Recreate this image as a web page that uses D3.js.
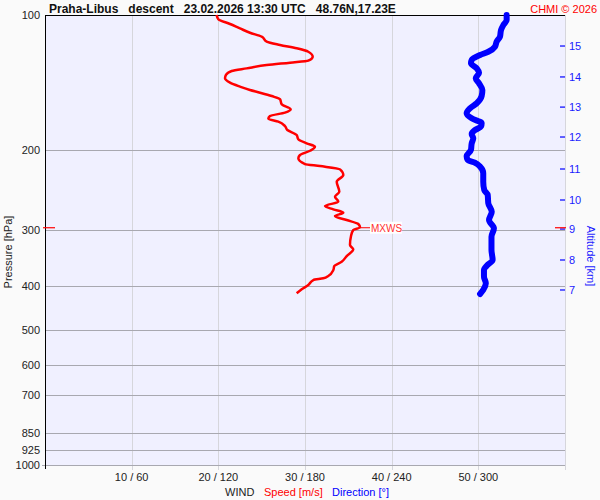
<!DOCTYPE html>
<html>
<head>
<meta charset="utf-8">
<script src="https://cdn.jsdelivr.net/npm/d3@7"></script>
<style>
  body { margin: 0; background: #fafafa; }
  svg { display: block; font-family: "Liberation Sans", Arial, sans-serif; }
</style>
</head>
<body>
<svg id="chart" width="600" height="500"></svg>
<script>
// pressure levels with grid lines / labels
var pressureTicks = [100, 200, 300, 400, 500, 600, 700, 850, 925, 1000];
// wind speed ticks (m/s), direction label is speed*6
var speedTicks = [10, 20, 30, 40, 50];
// altitude km and the pressure it sits at in this sounding
var altKm = [15, 14, 13, 12, 11, 10, 9, 8, 7];
var altPres = [117.2, 137.3, 160.2, 186.7, 219.9, 257.7, 299, 350.3, 408.4];

// wind speed profile
var speedPres = [100, 102.2, 104.7, 107.1, 109.5, 111.7, 114.6, 116.6, 118.6, 120.7,
  123.8, 126.3, 127.6, 129.2, 131.4, 133.2, 135.9, 138.3, 141.4, 144.3,
  146.8, 148.8, 151.4, 153.9, 157.9, 162.0, 164.8, 167.7, 170.0, 172.6,
  176.5, 180.1, 184.8, 188.9, 192.8, 196.2, 200.3, 204.7, 208.2, 214.4,
  216.6, 220.3, 226.8, 234.7, 247.0, 253.4, 260.0, 265.8, 270.3, 275.0,
  279.7, 285.5, 291.4, 296.4, 300.5, 309.9, 324.5, 331.7, 343.3, 353.5,
  361.3, 368.8, 380.2, 384.7, 388.1, 398.1, 407.0, 415.4];
var speedVal = [19.8, 20.0, 21.35, 22.5, 23.65, 25.0, 25.58, 27.12, 29.04, 30.38,
  30.89, 30.38, 28.27, 25.58, 23.27, 21.54, 20.88, 20.77, 21.35, 22.5,
  23.65, 24.81, 26.16, 27.12, 27.31, 28.35, 27.69, 25.96, 25.77, 26.92,
  27.69, 27.96, 29.04, 29.23, 30.19, 31.15, 30.58, 29.42, 29.23, 30.0,
  31.73, 34.04, 34.42, 33.66, 33.96, 33.46, 33.84, 32.31, 33.27, 34.42,
  33.46, 34.81, 36.15, 36.35, 35.57, 35.31, 35.19, 35.57, 34.81, 34.23,
  33.38, 33.27, 32.69, 32.11, 30.96, 30.38, 29.62, 29.04];

// wind direction profile
var dirPres = [100, 102.6, 105.3, 108.0, 111.7, 114.6, 117.6, 120.7, 122.7, 125.9,
  128.0, 131.4, 134.4, 138.3, 141.9, 146.8, 151.4, 157.1, 161.2, 165.3,
  169.7, 174.0, 177.1, 180.1, 183.8, 187.9, 192.8, 199.5, 205.8, 210.0,
  212.9, 217.3, 224.8, 234.7, 244.9, 251.2, 262.1, 273.6, 285.5, 297.9,
  311.0, 333.0, 350.4, 359.4, 368.8, 381.6, 394.7, 408.4, 416.9];
var dirVal = [319.6, 319.6, 317.3, 315.7, 315.0, 312.7, 311.5, 306.9, 301.2, 295.4,
  294.9, 298.9, 300.5, 298.2, 300.5, 302.8, 302.3, 298.9, 294.2, 291.9,
  295.4, 302.3, 301.8, 297.7, 295.4, 296.5, 295.4, 294.9, 291.9, 292.6,
  297.7, 301.2, 303.4, 303.4, 304.1, 306.5, 306.9, 309.3, 307.4, 310.8,
  309.1, 309.1, 309.9, 306.3, 303.9, 303.9, 305.2, 303.4, 301.2];

// max wind level
var mxwsPres = 297;
var mxwsSpeed = 36.35;

var svg = d3.select("#chart");
var pLeft = 45, pRight = 565, pTop = 15, pBottom = 465;

var y = d3.scaleLog().domain([100, 1000]).range([pTop, pBottom]);
var xs = d3.scaleLinear().domain([0, 60]).range([pLeft, pRight]);
var xd = d3.scaleLinear().domain([0, 360]).range([pLeft, pRight]);

svg.append("rect").attr("width", 600).attr("height", 500).attr("fill", "#fafafa");
svg.append("rect")
  .attr("x", pLeft).attr("y", pTop)
  .attr("width", pRight - pLeft).attr("height", pBottom - pTop)
  .attr("fill", "#f0f0ff");

// vertical grid (speed / direction)
svg.selectAll(".vgrid")
  .data(speedTicks)
  .enter().append("line")
  .attr("x1", d => Math.round(xs(d)) + 0.5).attr("x2", d => Math.round(xs(d)) + 0.5)
  .attr("y1", pTop).attr("y2", pBottom + 5)
  .attr("stroke", "#d6d6dc").attr("stroke-width", 1);

svg.append("line")
  .attr("x1", pRight + 0.5).attr("x2", pRight + 0.5)
  .attr("y1", pTop).attr("y2", pBottom + 5)
  .attr("stroke", "#d6d6dc");

// horizontal grid (pressure)
svg.selectAll(".hgrid")
  .data(pressureTicks.slice(1))
  .enter().append("line")
  .attr("x1", d => d == 1000 ? pLeft - 3 : pLeft).attr("x2", pRight)
  .attr("y1", d => Math.round(y(d)) + 0.5).attr("y2", d => Math.round(y(d)) + 0.5)
  .attr("stroke", "#a8a8b0").attr("stroke-width", 1);

// pressure labels
svg.selectAll(".plab")
  .data(pressureTicks)
  .enter().append("text")
  .attr("x", 40).attr("y", d => y(d) + 4)
  .attr("text-anchor", "end")
  .attr("font-size", 11).attr("fill", "#222")
  .text(d => d);

// left axis + top border
svg.append("line")
  .attr("x1", pLeft + 0.5).attr("x2", pLeft + 0.5)
  .attr("y1", pTop).attr("y2", pBottom + 4)
  .attr("stroke", "#000");
svg.append("line")
  .attr("x1", pLeft).attr("x2", pRight)
  .attr("y1", pTop + 0.5).attr("y2", pTop + 0.5)
  .attr("stroke", "#000");

// speed / direction tick labels
svg.selectAll(".xlab")
  .data(speedTicks)
  .enter().append("text")
  .attr("x", d => xs(d)).attr("y", 481)
  .attr("text-anchor", "middle")
  .attr("font-size", 11).attr("fill", "#222")
  .text(d => d + " / " + d * 6);

var leg = svg.append("text").attr("y", 496).attr("font-size", 11);
leg.append("tspan").attr("x", 225).attr("fill", "#222").text("WIND");
leg.append("tspan").attr("x", 264).attr("fill", "#ff0000").text("Speed [m/s]");
leg.append("tspan").attr("x", 332).attr("fill", "#0000ff").text("Direction [°]");

svg.append("text")
  .attr("transform", "translate(12,252) rotate(-90)")
  .attr("text-anchor", "middle")
  .attr("font-size", 11).attr("fill", "#222")
  .text("Pressure [hPa]");

// altitude axis
svg.selectAll(".atick")
  .data(altKm)
  .enter().append("line")
  .attr("x1", pRight - 5).attr("x2", pRight)
  .attr("y1", (d, i) => y(altPres[i])).attr("y2", (d, i) => y(altPres[i]))
  .attr("stroke", "#0000ff").attr("stroke-width", 1.2);
svg.selectAll(".alab")
  .data(altKm)
  .enter().append("text")
  .attr("x", 569).attr("y", (d, i) => y(altPres[i]) + 4)
  .attr("font-size", 11).attr("fill", "#1a1aff")
  .text(d => d);
svg.append("text")
  .attr("transform", "translate(587,256) rotate(90)")
  .attr("text-anchor", "middle")
  .attr("font-size", 11).attr("fill", "#1a1aff")
  .text("Altitude [km]");

// title
svg.append("text")
  .attr("x", 49).attr("y", 13)
  .attr("font-size", 12).attr("font-weight", "bold").attr("fill", "#111")
  .style("white-space", "pre")
  .text("Praha-Libus   descent   23.02.2026 13:30 UTC   48.76N,17.23E");
svg.append("text")
  .attr("x", 597).attr("y", 13)
  .attr("text-anchor", "end")
  .attr("font-size", 11).attr("fill", "#ff0000")
  .text("CHMI © 2026");

// direction profile
var dirLine = d3.line()
  .x((d, i) => xd(dirVal[i]))
  .y(d => y(d))
  .curve(d3.curveMonotoneY);
svg.append("path")
  .attr("d", dirLine(dirPres))
  .attr("fill", "none")
  .attr("stroke", "#0000ff").attr("stroke-width", 6)
  .attr("stroke-linejoin", "round").attr("stroke-linecap", "round");

// speed profile
var spLine = d3.line()
  .x((d, i) => xs(speedVal[i]))
  .y(d => y(d))
  .curve(d3.curveMonotoneY);
svg.append("path")
  .attr("d", spLine(speedPres))
  .attr("fill", "none")
  .attr("stroke", "#ff0000").attr("stroke-width", 2.5)
  .attr("stroke-linejoin", "round");

// MXWS marker
var my = y(mxwsPres);
svg.append("line")
  .attr("x1", pLeft - 2).attr("x2", pLeft + 10)
  .attr("y1", my).attr("y2", my)
  .attr("stroke", "#ff0000").attr("stroke-width", 1.2);
svg.append("line")
  .attr("x1", pRight - 10).attr("x2", pRight + 1)
  .attr("y1", my).attr("y2", my)
  .attr("stroke", "#ff0000").attr("stroke-width", 1.2);
svg.append("line")
  .attr("x1", xs(mxwsSpeed)).attr("x2", xs(mxwsSpeed) + 10)
  .attr("y1", my).attr("y2", my)
  .attr("stroke", "#ff0000").attr("stroke-width", 1);
svg.append("rect")
  .attr("x", xs(mxwsSpeed) + 10).attr("y", my - 6)
  .attr("width", 32).attr("height", 12)
  .attr("fill", "#ffffff");
svg.append("text")
  .attr("x", xs(mxwsSpeed) + 11).attr("y", my + 4)
  .attr("font-size", 10).attr("fill", "#ff3030")
  .text("MXWS");
</script>
</body>
</html>
